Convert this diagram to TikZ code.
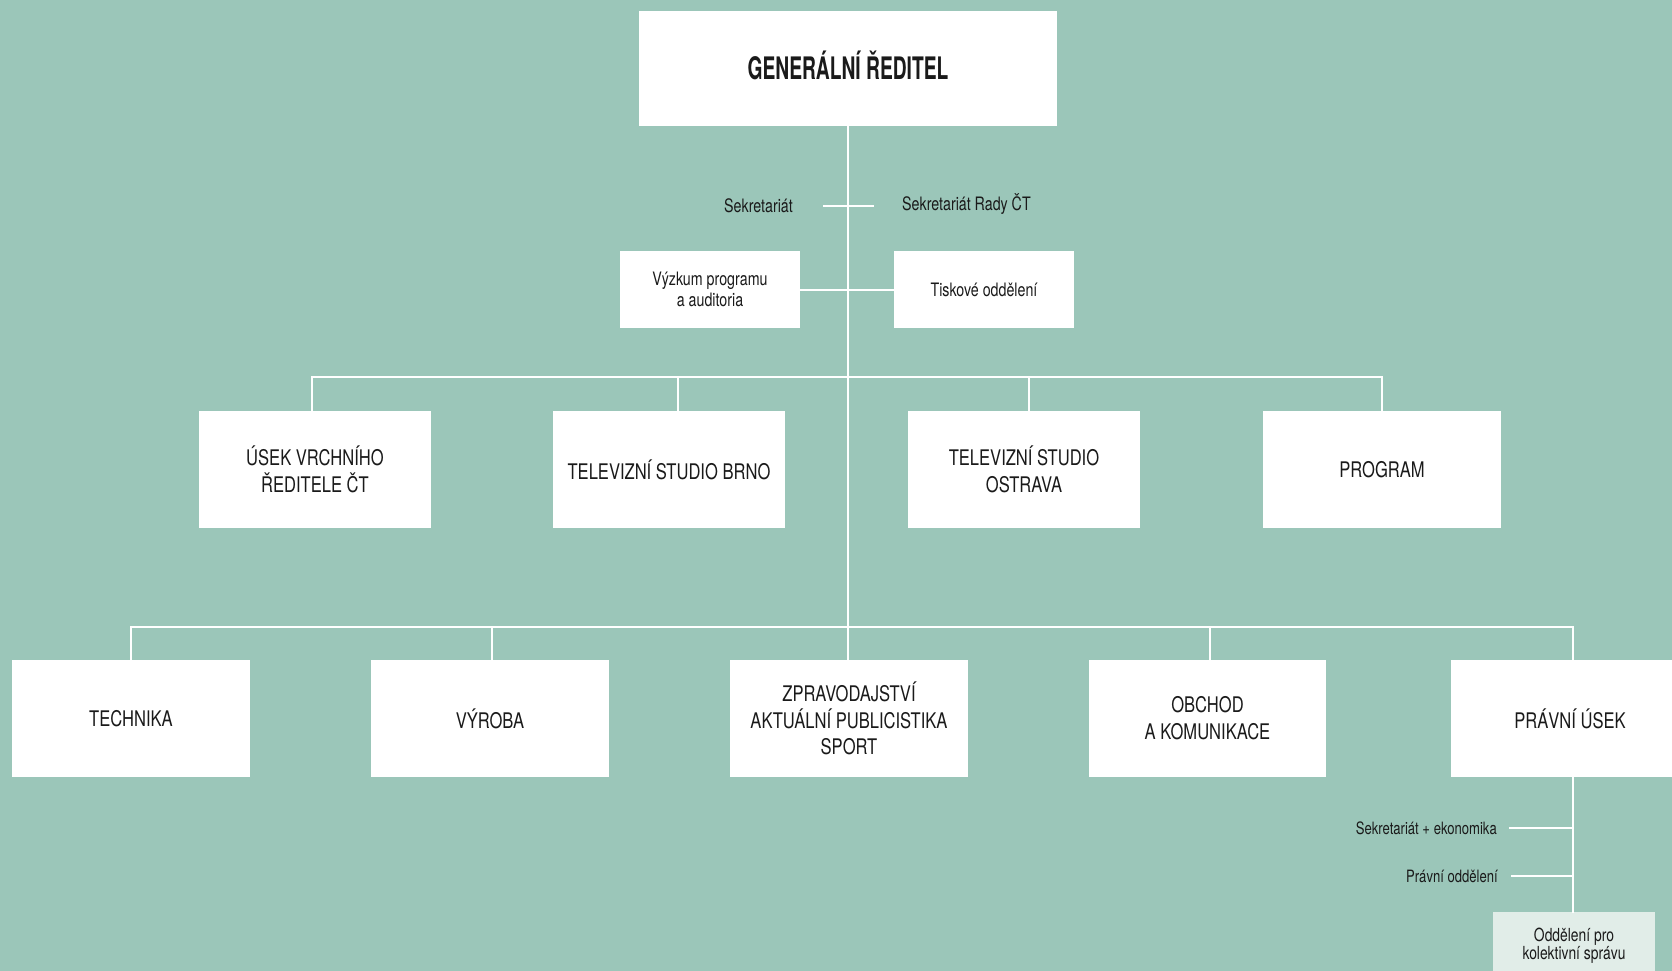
\documentclass[tikz,border=0pt]{standalone}
\usepackage{fontspec}
\setmainfont{TeX Gyre Heros}[FakeStretch=0.77]
\newfontfamily\grfont{TeX Gyre Heros}[FakeStretch=0.62]
\definecolor{bg}{HTML}{9BC6B9}
\definecolor{ink}{HTML}{1A1A1A}
\definecolor{pale}{HTML}{E1EDE8}
\tikzset{
  box/.style={fill=white, text=ink, align=center, inner sep=0pt, minimum width=232pt, minimum height=117pt, font=\fontsize{21.5}{26.7}\selectfont},
  small/.style={fill=white, text=ink, align=center, inner sep=0pt, minimum width=180pt, minimum height=77pt, font=\fontsize{18.5}{21}\selectfont},
  lbl/.style={text=ink, inner sep=0pt, font=\fontsize{18.5}{21}\selectfont},
  link/.style={draw=white, line width=2pt, line cap=rect}
}
\begin{document}
\begin{tikzpicture}[x=1pt, y=-1pt, line join=round]
\def\ra{377} \def\rb{627}
\fill[bg] (0,0) rectangle (1672,971);
\useasboundingbox (0,0) rectangle (1672,971);
\clip (0,0) rectangle (1672,971);
\node[box, minimum width=418pt, minimum height=115pt, text height=22pt, text depth=0pt, font=\grfont\bfseries\fontsize{31}{31}\selectfont] (gr) at (848,68.5) {GENERÁLNÍ ŘEDITEL};
\node[lbl, anchor=base east] (sek) at (793,212.5) {Sekretariát};
\node[lbl, anchor=base west] (rada) at (902,210.7) {Sekretariát Rady ČT};
\node[small] (vyzkum) at (710,289.5) {Výzkum programu\\a auditoria};
\node[small] (tisk) at (984,289.5) {Tiskové oddělení};
\node[box] (usek) at (315,469.5) {ÚSEK VRCHNÍHO\\ŘEDITELE ČT};
\node[box] (brno) at (669,469.5) {TELEVIZNÍ STUDIO BRNO};
\node[box] (ostrava) at (1024,469.5) {TELEVIZNÍ STUDIO\\OSTRAVA};
\node[box, minimum width=238pt] (program) at (1382,469.5) {PROGRAM};
\node[box, minimum width=238pt] (technika) at (131,718.5) {TECHNIKA};
\node[box, minimum width=238pt] (vyroba) at (490,718.5) {VÝROBA};
\node[box, minimum width=238pt] (zprav) at (849,718.5) {ZPRAVODAJSTVÍ\\AKTUÁLNÍ PUBLICISTIKA\\SPORT};
\node[box, minimum width=237pt] (obchod) at (1207.5,718.5) {OBCHOD\\A KOMUNIKACE};
\node[box, minimum width=238pt] (pravni) at (1570,718.5) {PRÁVNÍ ÚSEK};
\node[lbl, anchor=base east, font=\fontsize{17}{17}\selectfont] (sekek) at (1497,834) {Sekretariát + ekonomika};
\node[lbl, anchor=base east, font=\fontsize{17}{17}\selectfont] (pravodd) at (1498,882.3) {Právní oddělení};
\node[small, fill=pale, minimum width=162pt, minimum height=68pt, font=\fontsize{18}{18}\selectfont] (kolekt) at (1574,946) {Oddělení pro\\kolektivní správu};
\draw[link] (gr.south) -- (gr.south |- zprav.north);
\coordinate (sl) at (824,206); \coordinate (sr) at (873,206);
\draw[link] (sl) -- (sr);
\draw[link] (vyzkum.east) -- (tisk.west);
\foreach \n/\x [count=\i] in {usek/312,brno/678,ostrava/1028.5,program/1382}
  {\coordinate (a\i) at (\x,\ra); \draw[link] (a\i) -- (a\i |- \n.north);}
\draw[link] (a1) -- (a4);
\foreach \n/\x [count=\i] in {technika/130.7,vyroba/492,zprav/848,obchod/1209.5,pravni/1573}
  {\coordinate (b\i) at (\x,\rb); \draw[link] (b\i) -- (b\i |- \n.north);}
\draw[link] (b1) -- (b5);
\draw[link] (b5 |- pravni.south) -- (b5 |- kolekt.north);
\coordinate (p1) at (1510,828); \coordinate (p2) at (1512,876);
\draw[link] (p1) -- (p1 -| b5);
\draw[link] (p2) -- (p2 -| b5);
\end{tikzpicture}
\end{document}
